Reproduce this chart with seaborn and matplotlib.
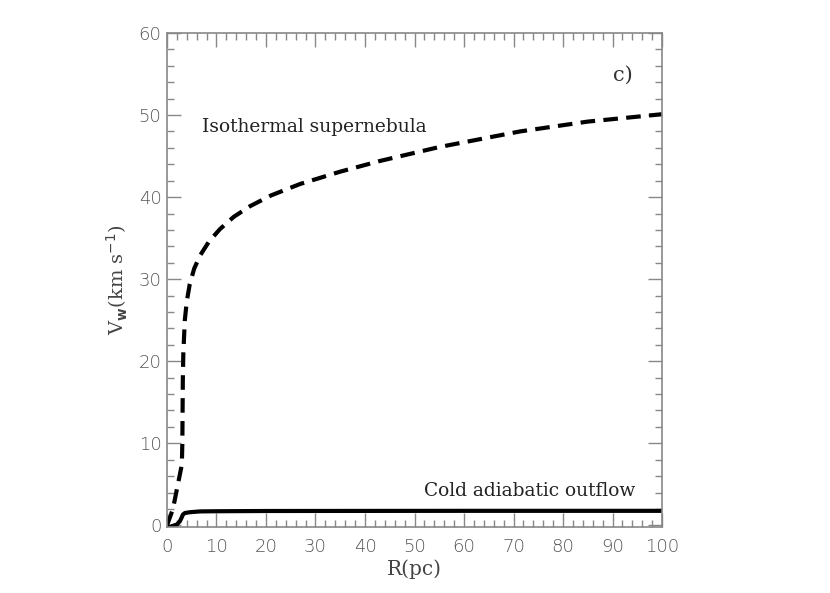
import matplotlib
matplotlib.use("Agg")
import matplotlib.pyplot as plt
import pandas as pd
import seaborn as sns
from matplotlib.ticker import MultipleLocator

# isothermal supernebula (dashed)
r_iso = [0, 1.2, 2.2, 3.0, 3.1, 3.15, 3.2, 3.3, 3.6, 4.0, 4.6, 5.5, 6.7, 8.5, 10.7, 13.5, 16.8, 21, 26.9, 35, 43, 55, 71.3, 85, 100]
v_iso = [0, 2.0, 5.0, 7.4, 10.0, 14.0, 17.8, 21.0, 25.0, 27.3, 29.4, 31.3, 32.9, 34.6, 36.1, 37.6, 38.9, 40.2, 41.6, 43.1, 44.4, 46.1, 48.0, 49.2, 50.1]

# cold adiabatic outflow (solid)
r_cold = [0, 1.0, 2.0, 2.6, 3.0, 3.2, 3.6, 4.6, 6.7, 10, 20, 40, 60, 80, 100]
v_cold = [-0.3, -0.1, 0.1, 0.5, 1.0, 1.3, 1.5, 1.6, 1.7, 1.72, 1.75, 1.76, 1.77, 1.77, 1.77]

iso = pd.DataFrame({"R": r_iso, "V": v_iso})
cold = pd.DataFrame({"R": r_cold, "V": v_cold})

sns.set_style("ticks")
plt.rcParams["font.family"] = ["DejaVu Sans"]

fig = plt.figure(figsize=(8.3, 5.93), dpi=100)
ax = fig.add_axes([0.2012, 0.1113, 0.5964, 0.8331])

sns.lineplot(data=iso, x="R", y="V", ax=ax, color="black", lw=3,
             linestyle=(0, (3.5, 2)), estimator=None)
sns.lineplot(data=cold, x="R", y="V", ax=ax, color="black", lw=3,
             estimator=None)

ax.set_xlim(0, 100)
ax.set_ylim(-0.2, 60)
ax.xaxis.set_major_locator(MultipleLocator(10))
ax.xaxis.set_minor_locator(MultipleLocator(2))
ax.yaxis.set_major_locator(MultipleLocator(10))
ax.yaxis.set_minor_locator(MultipleLocator(2))
ax.tick_params(which="both", direction="in", top=True, right=True,
               color="#888888", labelcolor="#555555", labelsize=13, width=1)
ax.tick_params(which="major", length=10)
ax.tick_params(axis="x", which="major", pad=8)
ax.tick_params(axis="y", which="major", pad=4)
ax.tick_params(which="minor", length=5)
for lab in ax.get_xticklabels() + ax.get_yticklabels():
    lab.set_fontweight("light")
for s in ax.spines.values():
    s.set_color("#888888")
    s.set_linewidth(1.2)

serif = ["DejaVu Serif"]
ax.set_xlabel("R(pc)", fontsize=14.5, color="#444444", family=serif, labelpad=2)
ax.set_ylabel(r"V$_{\mathbf{w}}$(km s$^{-1}$)", fontsize=14, color="#444444",
              family=serif, labelpad=6)

ax.text(7, 47.9, "Isothermal supernebula", fontsize=13.4, family=serif, color="#222222")
ax.text(94.7, 3.6, "Cold adiabatic outflow", fontsize=13.4, family=serif,
        color="#222222", ha="right")
ax.text(90, 54.2, "c)", fontsize=15, family=serif, color="#333333")

fig.savefig("out.png", dpi=100)
